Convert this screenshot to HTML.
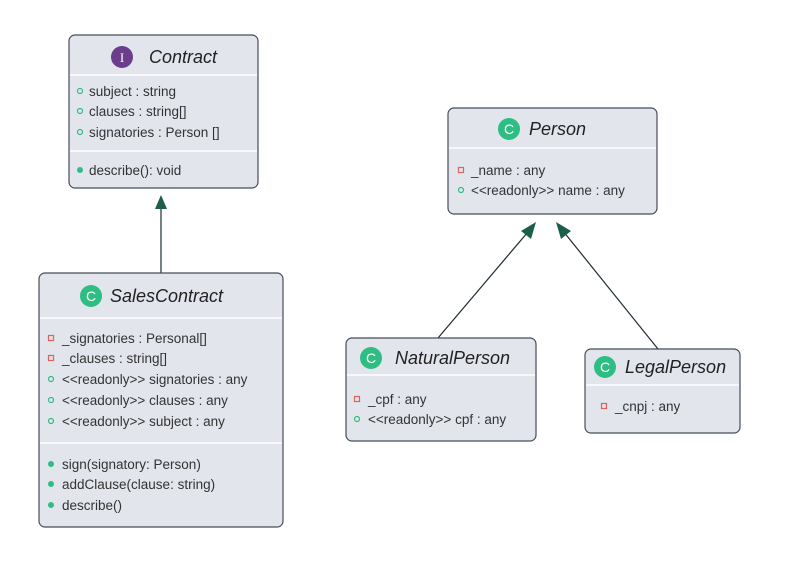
<!DOCTYPE html>
<html><head><style>body{margin:0;background:#fff}</style></head><body>
<svg width="800" height="563" xmlns="http://www.w3.org/2000/svg" font-family="Liberation Sans, sans-serif">
<defs><marker id="a" markerWidth="10" markerHeight="10" refX="9" refY="5" orient="auto" markerUnits="userSpaceOnUse" viewBox="0 0 10 10"><path d="M0,0 L10,5 L0,10 Z" fill="#1d5e4b"/></marker></defs>
<g stroke="#1d2b33" stroke-width="1.2" fill="none">
<line x1="161" y1="273" x2="161" y2="198"/>
<line x1="438" y1="338" x2="533" y2="226"/>
<line x1="658" y1="349" x2="559" y2="226"/>
</g>
<path d="M161,195 L155,209 L167,209 Z" fill="#1d5e4b"/>
<path d="M536,222 L521,231 L531,239 Z" fill="#1d5e4b"/>
<path d="M556,222 L561,239 L571,231 Z" fill="#1d5e4b"/>
<g fill="#e2e5ec" stroke="#454d5b" stroke-width="1.2">
<rect x="69" y="35" width="189" height="153" rx="6"/>
<rect x="39" y="273" width="244" height="254" rx="6"/>
<rect x="448" y="108" width="209" height="106" rx="6"/>
<rect x="346" y="338" width="190" height="103" rx="6"/>
<rect x="585" y="349" width="155" height="84" rx="6"/>
</g>
<g stroke="#fff" stroke-width="1.5">
<line x1="70" y1="75" x2="257" y2="75"/><line x1="70" y1="151" x2="257" y2="151"/>
<line x1="40" y1="318" x2="282" y2="318"/><line x1="40" y1="443" x2="282" y2="443"/>
<line x1="449" y1="148" x2="656" y2="148"/>
<line x1="347" y1="375" x2="535" y2="375"/>
<line x1="586" y1="385" x2="739" y2="385"/>
</g>
<g font-size="18" font-style="italic" fill="#222">
<circle cx="122" cy="57" r="11" fill="#6b3d8a"/><text x="122" y="62" fill="#fff" font-size="13" font-style="normal" text-anchor="middle" font-family="Liberation Serif, serif">I</text>
<text x="149" y="63">Contract</text>
<circle cx="91" cy="296" r="11" fill="#2ebd83"/><text x="91" y="301" fill="#fff" font-size="14" font-style="normal" text-anchor="middle">C</text>
<text x="110" y="302">SalesContract</text>
<circle cx="509" cy="129" r="11" fill="#2ebd83"/><text x="509" y="134" fill="#fff" font-size="14" font-style="normal" text-anchor="middle">C</text>
<text x="529" y="135">Person</text>
<circle cx="371" cy="358" r="11" fill="#2ebd83"/><text x="371" y="363" fill="#fff" font-size="14" font-style="normal" text-anchor="middle">C</text>
<text x="395" y="364">NaturalPerson</text>
<circle cx="605" cy="367" r="11" fill="#2ebd83"/><text x="605" y="372" fill="#fff" font-size="14" font-style="normal" text-anchor="middle">C</text>
<text x="625" y="373">LegalPerson</text>
</g>
<g font-size="13.5" fill="#333">
<text x="89" y="96">subject : string</text><text x="89" y="116">clauses : string[]</text><text x="89" y="137">signatories : Person []</text><text x="89" y="175">describe(): void</text>
<text x="62" y="343">_signatories : Personal[]</text><text x="62" y="363">_clauses : string[]</text><text x="62" y="384">&lt;&lt;readonly&gt;&gt; signatories : any</text><text x="62" y="405">&lt;&lt;readonly&gt;&gt; clauses : any</text><text x="62" y="426">&lt;&lt;readonly&gt;&gt; subject : any</text>
<text x="62" y="469">sign(signatory: Person)</text><text x="62" y="489">addClause(clause: string)</text><text x="62" y="510">describe()</text>
<text x="471" y="175">_name : any</text><text x="471" y="195">&lt;&lt;readonly&gt;&gt; name : any</text>
<text x="368" y="404">_cpf : any</text><text x="368" y="424">&lt;&lt;readonly&gt;&gt; cpf : any</text>
<text x="615" y="411">_cnpj : any</text>
</g>
<g fill="none" stroke="#2ebd83" stroke-width="1.2">
<circle cx="80" cy="91" r="2.5"/><circle cx="80" cy="111" r="2.5"/><circle cx="80" cy="132" r="2.5"/>
<circle cx="51" cy="379" r="2.5"/><circle cx="51" cy="400" r="2.5"/><circle cx="51" cy="421" r="2.5"/>
<circle cx="461" cy="190" r="2.5"/><circle cx="357" cy="419" r="2.5"/>
</g>
<g fill="#2ebd83"><circle cx="80" cy="170" r="3"/><circle cx="51" cy="464" r="3"/><circle cx="51" cy="484" r="3"/><circle cx="51" cy="505" r="3"/></g>
<g fill="none" stroke="#e0605a" stroke-width="1.2">
<rect x="48.5" y="335.5" width="5" height="5"/><rect x="48.5" y="355.5" width="5" height="5"/>
<rect x="458.5" y="167.5" width="5" height="5"/><rect x="354.5" y="396.5" width="5" height="5"/><rect x="601.5" y="403.5" width="5" height="5"/>
</g>
</svg>
</body></html>
